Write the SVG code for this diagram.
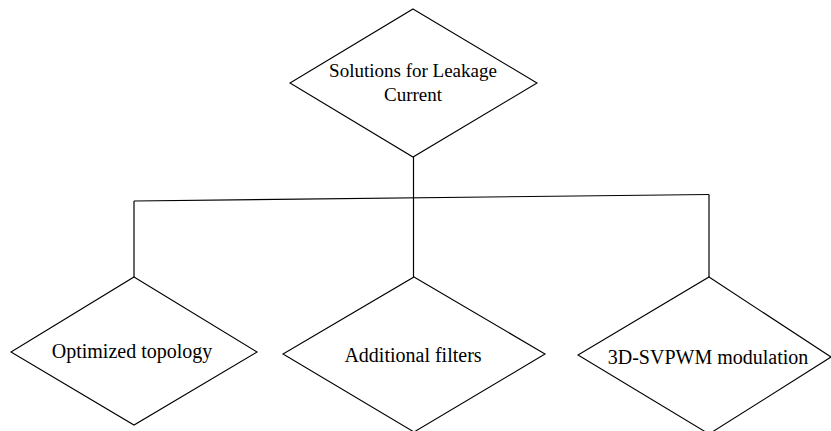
<svg xmlns="http://www.w3.org/2000/svg" width="831" height="431" viewBox="0 0 831 431">
  <style>
    .shape { fill: #ffffff; stroke: #000000; stroke-width: 1.1; }
    .wire { fill: none; stroke: #000000; stroke-width: 1.2; }
    .label { font-family: 'Liberation Serif', 'DejaVu Serif', serif; font-size: 20px; fill: #000000; text-anchor: middle; }
    .title { font-size: 19px; }
  </style>
  <rect width="831" height="431" fill="#ffffff"/>

  <!-- tree connectors -->
  <g id="connectors">
    <line class="wire" x1="413.5" y1="157" x2="413.5" y2="277"/>
    <line class="wire" x1="134" y1="201" x2="709" y2="194.5"/>
    <line class="wire" x1="134" y1="201" x2="134" y2="277"/>
    <line class="wire" x1="709" y1="194.5" x2="709" y2="277"/>
  </g>

  <!-- root decision -->
  <g id="root" font-family="Liberation Serif, serif">
    <polygon class="shape" points="413,9 537,83 413,157 290,83"/>
    <text class="label title" x="413" y="77">Solutions for Leakage</text>
    <text class="label title" x="413" y="101">Current</text>
  </g>

  <g id="topology" font-family="Liberation Serif, serif">
    <polygon class="shape" points="134,277 257,352 134,425 11,352"/>
    <text class="label" x="132" y="358">Optimized topology</text>
  </g>

  <g id="filters" font-family="Liberation Serif, serif">
    <polygon class="shape" points="414,277 545,354 414,432 283,354"/>
    <text class="label" x="413" y="362">Additional filters</text>
  </g>

  <g id="modulation" font-family="Liberation Serif, serif">
    <polygon class="shape" points="709,277 831,357 709,434 578,355"/>
    <text class="label" x="708" y="364">3D-SVPWM modulation</text>
  </g>
</svg>
